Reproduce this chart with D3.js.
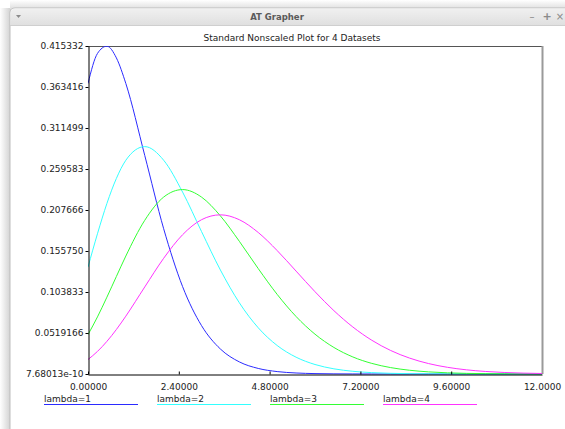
<!DOCTYPE html>
<html>
<head>
<meta charset="utf-8">
<script src="https://cdn.jsdelivr.net/npm/d3@7"></script>
<style>
  html, body { margin: 0; padding: 0; background: #ffffff; }
  svg { display: block; }
  text { font-family: "DejaVu Sans", sans-serif; }
</style>
</head>
<body>
<svg id="chart" width="565" height="429"></svg>
<script>
// Sample positions along the x axis
const xs = [0, 0.25, 0.5, 0.75, 1, 1.5, 2, 2.5, 3, 3.5, 4, 4.5, 5, 5.5, 6, 6.5, 7, 7.5, 8, 8.5, 9, 9.5, 10, 10.5, 11, 11.5, 12];

// Series values at each sample position
const lambda1 = [0.367879, 0.405868, 0.415107, 0.400276, 0.367879, 0.276740, 0.183940, 0.110695, 0.061313, 0.031627, 0.015328, 0.0070283, 0.0030657, 0.0012779, 0.00051094, 0.00019660, 0.000072992, 0.000026213, 0.0000091240, 0.0000030839, 0.0000010138, 3.246e-7, 1.0138e-7, 3.09e-8, 9.216e-9, 2.69e-9, 7.68013e-10];
const lambda2 = [0.135335, 0.177563, 0.215964, 0.247649, 0.270670, 0.287951, 0.270670, 0.230361, 0.180447, 0.131635, 0.090223, 0.058504, 0.036089, 0.021274, 0.012030, 0.0065460, 0.0034371, 0.0017456, 0.00085927, 0.00041073, 0.00019095, 0.000086468, 0.000038190, 0.000016470, 0.0000069436, 0.0000028644, 0.0000011573];
const lambda3 = [0.049787, 0.072289, 0.097305, 0.123484, 0.149361, 0.194609, 0.224042, 0.233530, 0.224042, 0.200170, 0.168031, 0.133446, 0.100819, 0.072789, 0.050409, 0.033595, 0.021604, 0.013438, 0.0081015, 0.0047428, 0.0027005, 0.0014977, 0.00081015, 0.00042792, 0.00022095, 0.00011163, 0.000055238];
const lambda4 = [0.018316, 0.028578, 0.041335, 0.056368, 0.073263, 0.110227, 0.146525, 0.176361, 0.195367, 0.201554, 0.195367, 0.179159, 0.156293, 0.130298, 0.104196, 0.080183, 0.059540, 0.042764, 0.029770, 0.020124, 0.013231, 0.0084734, 0.0052925, 0.0032280, 0.0019246, 0.0011228, 0.00064152];

const seriesNames = ["lambda=1", "lambda=2", "lambda=3", "lambda=4"];
const seriesColors = ["#2b2bff", "#33ffff", "#33ff33", "#ff33ff"];

// Axis ranges and tick labels
const xDomain = [0, 12];
const yDomain = [7.68013e-10, 0.415332];
const xTickLabels = ["0.00000", "2.40000", "4.80000", "7.20000", "9.60000", "12.0000"];
const yTickLabels = ["7.68013e-10", "0.0519166", "0.103833", "0.155750", "0.207666", "0.259583", "0.311499", "0.363416", "0.415332"];

const chartTitle = "Standard Nonscaled Plot for 4 Datasets";
const windowTitle = "AT Grapher";

const svg = d3.select("#chart");
const W = 565, H = 429;

// ---- window frame ----
const defs = svg.append("defs");
const shade = defs.append("linearGradient").attr("id", "shadeL").attr("x1", 0).attr("x2", 1);
shade.append("stop").attr("offset", 0).attr("stop-color", "#ffffff");
shade.append("stop").attr("offset", 1).attr("stop-color", "#cfcfcf");
const shadeT = defs.append("linearGradient").attr("id", "shadeT").attr("x1", 0).attr("x2", 0).attr("y1", 0).attr("y2", 1);
shadeT.append("stop").attr("offset", 0).attr("stop-color", "#ffffff");
shadeT.append("stop").attr("offset", 1).attr("stop-color", "#dedede");
const bar = defs.append("linearGradient").attr("id", "bar").attr("x1", 0).attr("x2", 0).attr("y1", 0).attr("y2", 1);
bar.append("stop").attr("offset", 0).attr("stop-color", "#f0f0f0");
bar.append("stop").attr("offset", 1).attr("stop-color", "#e0e0e0");

svg.append("rect").attr("x", 0).attr("y", 8).attr("width", 11).attr("height", H - 8).attr("fill", "url(#shadeL)");
svg.append("rect").attr("x", 10).attr("y", 0).attr("width", W - 10).attr("height", 9).attr("fill", "url(#shadeT)");

svg.append("path")
  .attr("d", `M10,${H + 5} L10,13 Q10,8 15,8 L${W + 10},8 L${W + 10},${H + 5} Z`)
  .attr("fill", "#ffffff").attr("stroke", "#bdbdbd");
svg.append("path")
  .attr("d", `M10.5,25 L10.5,13 Q10.5,8.5 15,8.5 L${W + 10},8.5 L${W + 10},25 Z`)
  .attr("fill", "url(#bar)");
svg.append("line").attr("x1", 10).attr("x2", W).attr("y1", 25.5).attr("y2", 25.5).attr("stroke", "#cfcfcf");

svg.append("path").attr("d", "M16,15 L21,15 L18.5,18 Z").attr("fill", "#8a8a8a");
svg.append("text").attr("x", 277).attr("y", 20).attr("text-anchor", "middle")
  .attr("font-size", 8.5).attr("font-weight", "bold").attr("fill", "#5a5a5a").text(windowTitle);
svg.append("text").attr("x", 532).attr("y", 20).attr("text-anchor", "middle").attr("font-size", 10).attr("fill", "#8a8a8a").text("–");
svg.append("text").attr("x", 547).attr("y", 20).attr("text-anchor", "middle").attr("font-size", 11).attr("font-weight", "bold").attr("fill", "#8a8a8a").text("+");
svg.append("text").attr("x", 560).attr("y", 20).attr("text-anchor", "middle").attr("font-size", 10).attr("fill", "#8a8a8a").text("×");

// ---- plot ----
const plotLeft = 88, plotRight = 542, plotTop = 46, plotBottom = 374;
const x = d3.scaleLinear().domain(xDomain).range([plotLeft, plotRight]);
const y = d3.scaleLinear().domain(yDomain).range([plotBottom, plotTop]);

svg.append("text").attr("x", 292).attr("y", 41).attr("text-anchor", "middle")
  .attr("font-size", 9).attr("fill", "#222").text(chartTitle);

// frame: top and right edges
svg.append("line").attr("x1", plotLeft).attr("x2", plotRight).attr("y1", plotTop + 0.5).attr("y2", plotTop + 0.5).attr("stroke", "#555");
svg.append("line").attr("x1", plotRight + 0.5).attr("x2", plotRight + 0.5).attr("y1", plotTop).attr("y2", plotBottom).attr("stroke", "#9a9a9a").attr("stroke-width", 2);

const clip = defs.append("clipPath").attr("id", "plotClip");
clip.append("rect").attr("x", plotLeft).attr("y", plotTop).attr("width", plotRight - plotLeft).attr("height", plotBottom - plotTop + 1);

const line = d3.line().x(d => x(d[0])).y(d => y(d[1])).curve(d3.curveMonotoneX);
const allSeries = [lambda1, lambda2, lambda3, lambda4];
const gLines = svg.append("g").attr("clip-path", "url(#plotClip)");
allSeries.forEach((vals, i) => {
  gLines.append("path")
    .datum(xs.map((xv, j) => [xv, vals[j]]))
    .attr("fill", "none").attr("stroke", seriesColors[i]).attr("stroke-width", 1)
    .attr("d", line);
});

// axes
const yTickVals = d3.range(yTickLabels.length).map(i => yDomain[0] + (yDomain[1] - yDomain[0]) * i / (yTickLabels.length - 1));
const xTickVals = d3.range(xTickLabels.length).map(i => xDomain[0] + (xDomain[1] - xDomain[0]) * i / (xTickLabels.length - 1));

const yAxis = d3.axisLeft(y).tickValues(yTickVals).tickSizeInner(3).tickSizeOuter(0).tickPadding(2)
  .tickFormat((d, i) => yTickLabels[i]);
const gy = svg.append("g").attr("transform", `translate(${plotLeft + 0.5},0)`).call(yAxis);
const xAxis = d3.axisBottom(x).tickValues(xTickVals).tickSizeInner(-3).tickSizeOuter(0).tickPadding(9)
  .tickFormat((d, i) => xTickLabels[i]);
const gx = svg.append("g").attr("transform", `translate(0,${plotBottom + 0.5})`).call(xAxis);

[gx, gy].forEach(g => {
  g.select(".domain").attr("stroke", "#000");
  g.selectAll(".tick line").attr("stroke", "#000");
  g.selectAll(".tick text").attr("font-family", "DejaVu Sans, sans-serif").attr("font-size", 9).attr("fill", "#222");
});
gx.select(".tick:last-of-type line").remove();

// legend
const legendX = d3.scaleLinear().domain([0, 1]).range([44, 157]);
const lg = svg.append("g");
seriesNames.forEach((name, i) => {
  const lx = legendX(i);
  lg.append("text").attr("x", lx).attr("y", 402).attr("font-size", 9).attr("fill", "#222").text(name);
  lg.append("line").attr("x1", lx).attr("x2", lx + 94).attr("y1", 404.5).attr("y2", 404.5)
    .attr("stroke", seriesColors[i]).attr("stroke-width", 1);
});
</script>
</body>
</html>
